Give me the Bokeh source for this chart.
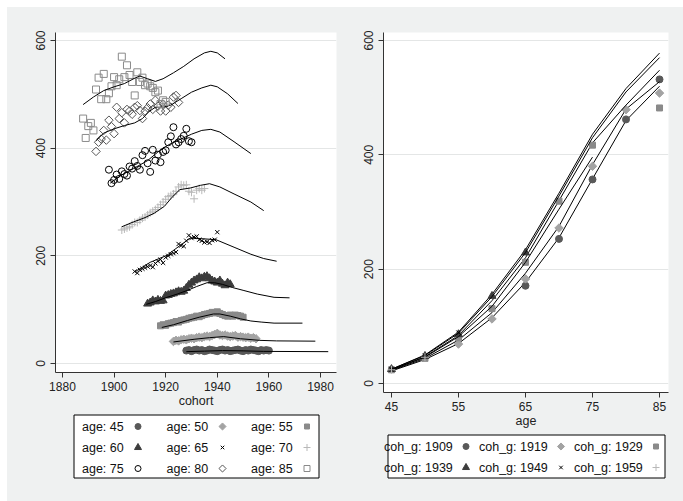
from bokeh.plotting import figure
from bokeh.layouts import row, column
from bokeh.models import Range1d, FixedTicker, ColumnDataSource
from bokeh.core.properties import value
from bokeh.embed import file_html
from bokeh.resources import INLINE
import math

# ---------------- data: left panel (value by cohort, one series per age) ----------------
ages = [45, 50, 55, 60, 65, 70, 75, 80, 85]
obs_start = [1928, 1923, 1918, 1913, 1908, 1903, 1898, 1893, 1888]

obs_45 = [24, 25, 23, 25, 26, 24, 25, 23, 24, 26, 25, 24, 23, 25, 26, 24, 25, 23, 24, 25, 26, 24, 23, 25, 24, 26, 25, 24, 23, 25, 24, 25, 24]
obs_50 = [41, 43, 42, 44, 45, 44, 46, 47, 46, 48, 49, 48, 50, 51, 50, 52, 54, 56, 53, 52, 53, 51, 50, 51, 52, 49, 50, 49, 48, 49, 47, 48, 46]
obs_55 = [70, 72, 71, 74, 75, 76, 78, 77, 80, 81, 82, 84, 85, 86, 88, 87, 89, 91, 92, 93, 95, 94, 96, 93, 91, 89, 88, 90, 88, 90, 89, 88, 86]
obs_60 = [111, 113, 117, 115, 118, 116, 117, 126, 127, 129, 130, 132, 134, 133, 135, 140, 146, 150, 154, 156, 160, 158, 161, 162, 158, 154, 152, 150, 154, 148, 145, 150, 147]
obs_65 = [171, 168, 174, 176, 178, 180, 182, 179, 186, 190, 193, 187, 197, 200, 203, 205, 207, 222, 219, 218, 228, 238, 233, 235, 236, 230, 228, 225, 226, 224, 229, 230, 244]
obs_70 = [248, 250, 252, 254, 258, 262, 262, 266, 270, 272, 276, 280, 283, 286, 290, 295, 300, 305, 310, 312, 315, 320, 328, 332, 331, 332, 320, 318, 306, 322, 325, 322, 325]
obs_75 = [360, 335, 341, 351, 343, 357, 352, 349, 366, 362, 376, 367, 360, 387, 395, 372, 356, 397, 377, 388, 374, 393, 396, 411, 422, 439, 407, 411, 417, 423, 436, 413, 411]
obs_80 = [394, 411, 417, 433, 415, 452, 440, 427, 476, 455, 466, 447, 472, 469, 463, 476, 479, 470, 455, 469, 475, 482, 472, 489, 478, 469, 482, 469, 480, 476, 495, 498, 485]
obs_85 = [455, 419, 441, 447, 433, 509, 531, 491, 538, 491, 502, 515, 532, 517, 528, 570, 532, 554, 536, 523, 498, 541, 523, 531, 517, 520, 515, 512, 504, 507, 482, 489, 486]

fit_c_45 = [1928, 1935, 1942, 1950, 1958, 1983]
fit_v_45 = [22, 23, 24, 23.5, 22.5, 22]
fit_c_50 = [1923, 1931, 1937, 1942.5, 1949, 1956.5, 1963, 1978]
fit_v_50 = [40, 45, 48, 50, 46, 43, 42, 41.5]
fit_c_55 = [1918.5, 1923, 1928.5, 1933, 1938.5, 1941, 1945, 1949, 1953, 1957, 1962, 1973]
fit_v_55 = [67, 72, 80, 86, 92, 92, 88, 83, 79, 77, 75, 75]
fit_c_60 = [1912.5, 1916, 1920.5, 1924.5, 1928.5, 1932, 1936, 1939, 1942, 1946, 1950, 1955.5, 1962, 1968]
fit_v_60 = [110, 115, 123, 129, 136, 143, 150, 150, 147, 141, 136, 129, 123, 122]
fit_c_65 = [1908.3, 1914, 1920.5, 1925.5, 1929.5, 1933.5, 1939.5, 1946.5, 1953, 1958, 1963]
fit_v_65 = [171, 188, 201, 219, 233, 232, 230, 216, 203, 195, 190]
fit_c_70 = [1903, 1907.5, 1911.5, 1915.5, 1919.5, 1922.5, 1925.5, 1929.5, 1933.5, 1937, 1941, 1946.5, 1953, 1958]
fit_v_70 = [254, 263, 270, 279, 292, 309, 323, 326, 331, 334, 328, 315, 300, 284]
fit_c_75 = [1898.5, 1902.5, 1907.5, 1913, 1917, 1921, 1925, 1930, 1934, 1937.5, 1941, 1946.5, 1953]
fit_v_75 = [335, 349, 362, 377, 393, 406, 415, 426, 433, 435, 430, 412, 390]
fit_c_80 = [1893, 1896, 1900, 1904, 1908, 1911, 1913.5, 1916, 1919, 1922, 1926, 1930, 1934, 1937.5, 1940, 1944, 1948]
fit_v_80 = [414, 428, 436, 442, 447, 455, 468, 476, 476, 480, 492, 504, 512, 517, 514, 501, 483]
fit_c_85 = [1888, 1892, 1896, 1900, 1904, 1908, 1910, 1913, 1916, 1919, 1923, 1927, 1931, 1935, 1937.5, 1940, 1943]
fit_v_85 = [481, 495, 507, 514, 520, 530, 534, 529, 524, 529, 540, 552, 566, 577, 580, 577, 566]

obs_list = [obs_45, obs_50, obs_55, obs_60, obs_65, obs_70, obs_75, obs_80, obs_85]
fit_c_list = [fit_c_45, fit_c_50, fit_c_55, fit_c_60, fit_c_65, fit_c_70, fit_c_75, fit_c_80, fit_c_85]
fit_v_list = [fit_v_45, fit_v_50, fit_v_55, fit_v_60, fit_v_65, fit_v_70, fit_v_75, fit_v_80, fit_v_85]

# ---------------- data: right panel (value by age, one series per cohort group) ----------------
coh_groups = [1909, 1919, 1929, 1939, 1949, 1959]
age_grid = [45, 50, 55, 60, 65, 70, 75, 80, 85]
fit_1909 = [22, 42, 70, 115, 177, 255, 358, 460, 520]
fit_1919 = [23, 44, 76, 124, 193, 275, 383, 480, 528]
fit_1929 = [24, 47, 84, 145, 220, 320, 421, 487, 548]
fit_1939 = [25, 50, 90, 156, 234, 333, 436, 516, 578]
fit_1949 = [25, 49, 88, 152, 229, 328, 430, 510, 570]
fit_1959 = [24, 46, 82, 135, 212, 305, 396]

pt_age_1909 = [65, 70, 75, 80, 85]
pt_val_1909 = [171, 253, 357, 462, 532]
pt_age_1919 = [55, 60, 65, 70, 75, 80, 85]
pt_val_1919 = [69, 113, 183, 272, 380, 479, 508]
pt_age_1929 = [45, 50, 55, 60, 65, 70, 75, 85]
pt_val_1929 = [24, 44, 80, 131, 212, 319, 417, 482]
pt_age_1939 = [45, 50, 55, 60, 65]
pt_val_1939 = [25, 48, 86, 153, 229]
pt_age_1949 = [45, 50, 55]
pt_val_1949 = [25, 49, 89]
pt_age_1959 = [45, 50]
pt_val_1959 = [24, 46]

fit_r_list = [fit_1909, fit_1919, fit_1929, fit_1939, fit_1949, fit_1959]
pt_age_list = [pt_age_1909, pt_age_1919, pt_age_1929, pt_age_1939, pt_age_1949, pt_age_1959]
pt_val_list = [pt_val_1909, pt_val_1919, pt_val_1929, pt_val_1939, pt_val_1949, pt_val_1959]

left_xticks = [1880, 1900, 1920, 1940, 1960, 1980]
right_xticks = [45, 55, 65, 75, 85]
yticks = [0, 200, 400, 600]

# ---------------- styles ----------------
BG = "#EFF1F1"
FONT = "Liberation Sans"
# (marker, color, filled, size, angle)
STYLES = [
    ("circle", "#595959", True, 7, 0),
    ("square", "#A3A3A3", True, 6, math.pi / 4),
    ("square", "#8A8A8A", True, 6, 0),
    ("triangle", "#3C3C3C", True, 8, 0),
    ("x", "#000000", False, 6, 0),
    ("cross", "#B8B8B8", False, 8, 0),
    ("circle", "#000000", False, 7, 0),
    ("square", "#555555", False, 6, math.pi / 4),
    ("square", "#8A8A8A", False, 7, 0),
]


def style_fig(p, xticks):
    p.background_fill_color = "white"
    p.border_fill_color = BG
    p.outline_line_color = None
    p.xgrid.grid_line_color = None
    p.ygrid.grid_line_color = "#E4E6E6"
    p.ygrid.ticker = FixedTicker(ticks=yticks)
    p.yaxis.ticker = FixedTicker(ticks=yticks)
    p.xaxis.ticker = FixedTicker(ticks=xticks)
    for ax in [p.xaxis, p.yaxis]:
        ax.axis_line_color = "#333333"
        ax.major_tick_line_color = "#333333"
        ax.major_tick_out = 5
        ax.major_tick_in = 0
        ax.minor_tick_line_color = None
        ax.major_label_text_font = FONT
        ax.major_label_text_font_size = "12px"
        ax.major_label_text_color = "#222222"
        ax.axis_label_text_font = FONT
        ax.axis_label_text_font_size = "12.5px"
        ax.axis_label_text_font_style = "normal"
        ax.axis_label_text_color = "#222222"
    p.xaxis.major_label_standoff = 4
    p.xaxis.axis_label_standoff = 0
    p.yaxis.major_label_standoff = 5
    p.yaxis.major_label_orientation = "vertical"


def add_points(p, xs, ys, st, shrink=0):
    marker, color, filled, size, angle = st
    return p.scatter(xs, ys, marker=marker, size=size - shrink, angle=angle,
                     fill_color=color if filled else None, line_color=color, line_width=1)


def legend_fig(width, height, bl, br, labels, styles, box, text_x0, col_pitch, row_y0, row_pitch, key_dx):
    """Stata-style legend: label first, marker key after it, 3 columns, in pixel space.
    Its frame is aligned with the panel above (same side borders), so the x range is set
    so that one unit is one pixel measured from the figure's left edge."""
    q = figure(width=width, height=height, x_range=Range1d(bl, width - br), y_range=Range1d(0, height),
               x_axis_type=None, y_axis_type=None, output_backend="svg", toolbar_location=None,
               min_border=0, min_border_left=bl, min_border_right=br,
               min_border_top=0, min_border_bottom=0)
    q.background_fill_color = BG
    q.border_fill_color = BG
    q.outline_line_color = None
    q.grid.visible = False
    left, right, bottom, top = box
    q.quad(left=[left], right=[right], bottom=[bottom], top=[top],
           fill_color="white", line_color="black", line_width=1)
    tx, ty = [], []
    for i, lab in enumerate(labels):
        r, c = divmod(i, 3)
        tx.append(text_x0 + c * col_pitch)
        ty.append(row_y0 - r * row_pitch)
    src = ColumnDataSource(dict(x=tx, y=ty, t=labels))
    q.text(x="x", y="y", text="t", source=src, text_font=value(FONT), text_font_size="12.5px",
           text_color="#111111", text_baseline="middle", text_align="left")
    for i, st in enumerate(styles):
        add_points(q, [tx[i] + key_dx], [ty[i]], st, shrink=1)
    return q


# ---------------- left panel ----------------
p1 = figure(width=338, height=406, x_range=Range1d(1877.3, 1986.2), y_range=Range1d(-16.7, 614.9),
            output_backend="svg", toolbar_location=None,
            min_border_left=48, min_border_right=9, min_border_top=25, min_border_bottom=41)
style_fig(p1, left_xticks)
p1.xaxis.axis_label = "cohort"

for a, start, obs, fc, fv, st in zip(ages, obs_start, obs_list, fit_c_list, fit_v_list, STYLES):
    cohorts = [start + k for k in range(len(obs))]
    add_points(p1, cohorts, obs, st)
    p1.line(fc, fv, line_color="black", line_width=1)

leg1 = legend_fig(338, 88, 48, 9, [f"age: {a}" for a in ages], STYLES,
                  box=(66.5, 311.5, 23.5, 86.5), text_x0=74.5, col_pitch=84.5,
                  row_y0=75, row_pitch=21, key_dx=56)

# ---------------- right panel ----------------
p2 = figure(width=338, height=426, x_range=Range1d(43.81, 86.34), y_range=Range1d(-15.7, 614),
            output_backend="svg", toolbar_location=None,
            min_border_left=38, min_border_right=15, min_border_top=25, min_border_bottom=41)
style_fig(p2, right_xticks)
p2.xaxis.axis_label = "age"

for g, fit, pa, pv, st in zip(coh_groups, fit_r_list, pt_age_list, pt_val_list, STYLES):
    p2.line(age_grid[:len(fit)], fit, line_color="black", line_width=1)
    add_points(p2, pa, pv, st)

leg2 = legend_fig(338, 68, 38, 15, [f"coh_g: {g}" for g in coh_groups], STYLES[:6],
                  box=(42.5, 319.5, 23.5, 66.5), text_x0=38.5, col_pitch=95,
                  row_y0=55, row_pitch=21, key_dx=82)

layout = row(column(p1, leg1, spacing=0), column(p2, leg2, spacing=0), spacing=0)
layout.margin = (7, 0, 0, 7)
layout.styles = {"background-color": BG}
open("out.html", "w").write(file_html(layout, INLINE))
